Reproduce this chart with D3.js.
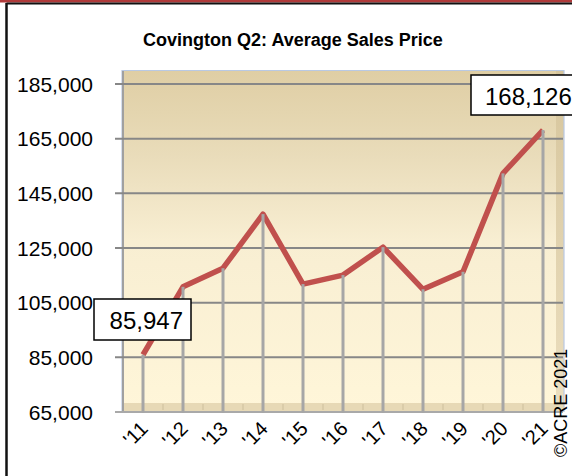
<!DOCTYPE html>
<html><head><meta charset="utf-8">
<script src="https://cdn.jsdelivr.net/npm/d3@7"></script>
<style>body{margin:0;background:#fff}svg{display:block}</style>
</head><body>
<script>
const years = ["'11","'12","'13","'14","'15","'16","'17","'18","'19","'20","'21"];
const prices = [85947,110800,117600,137400,111800,115100,125300,109900,116300,152300,168126];
const yTicks = [65000,85000,105000,125000,145000,165000,185000];
const title = "Covington Q2: Average Sales Price";
const labelled = [0,10];

const W=572,H=476;
const svg=d3.select("body").append("svg").attr("width",W).attr("height",H);
const font="'Liberation Sans', Arial, sans-serif";

// outer frame
svg.append("rect").attr("x",0).attr("y",0).attr("width",W).attr("height",2.5).attr("fill","#b03a3a");
svg.append("line").attr("x1",6.5).attr("x2",W).attr("y1",3.5).attr("y2",3.5).attr("stroke","#111").attr("stroke-width",2);
svg.append("line").attr("x1",6.5).attr("x2",6.5).attr("y1",3).attr("y2",H).attr("stroke","#111").attr("stroke-width",2.5);

const x=d3.scaleBand().domain(years).range([123,563]);
const y=d3.scaleLinear().domain([65000,185000]).range([412,84]);
const cx=d=>x(d)+x.bandwidth()/2;

const defs=svg.append("defs");
const g1=defs.append("linearGradient").attr("id","wall").attr("x1",0).attr("y1",0).attr("x2",0).attr("y2",1);
g1.append("stop").attr("offset","0%").attr("stop-color","#dfcea4");
g1.append("stop").attr("offset","25%").attr("stop-color","#e9dcba");
g1.append("stop").attr("offset","50%").attr("stop-color","#f8eed2");
g1.append("stop").attr("offset","100%").attr("stop-color","#fff6d9");
const g2=defs.append("linearGradient").attr("id","side").attr("x1",0).attr("y1",0).attr("x2",0).attr("y2",1);
g2.append("stop").attr("offset","0%").attr("stop-color","#d6c59c");
g2.append("stop").attr("offset","100%").attr("stop-color","#ecdfc0");

// wall
svg.append("rect").attr("x",122).attr("y",70).attr("width",442).attr("height",342).attr("fill","url(#wall)");
svg.append("rect").attr("x",556).attr("y",70).attr("width",8).attr("height",342).attr("fill","url(#side)");
svg.append("rect").attr("x",122).attr("y",403).attr("width",442).attr("height",9).attr("fill","#e7d9b6");
svg.append("path").attr("d","M122,412V70.5H564V412").attr("fill","none").attr("stroke","#b9c9e3").attr("stroke-width",1.2);
svg.append("line").attr("x1",123).attr("x2",123).attr("y1",71).attr("y2",412).attr("stroke","#a0a0a0").attr("stroke-width",2);

// floor ticks
svg.append("g").selectAll("line").data(d3.range(1,11)).join("line")
  .attr("x1",i=>123+i*x.bandwidth()).attr("x2",i=>123+i*x.bandwidth())
  .attr("y1",404).attr("y2",410).attr("stroke","#cdbf9c").attr("stroke-width",1);

// gridlines
svg.append("g").selectAll("line").data(yTicks).join("line")
  .attr("x1",115).attr("x2",563).attr("y1",d=>y(d)).attr("y2",d=>y(d))
  .attr("stroke",d=>d===65000?"#a9a9a9":"#878787").attr("stroke-width",2);

// y labels
svg.append("g").selectAll("text").data(yTicks).join("text")
  .attr("x",93).attr("y",d=>y(d)+7.5).attr("text-anchor","end")
  .attr("font-family",font).attr("font-size",21).attr("fill","#000")
  .text(d3.format(","));

// line
svg.append("path").datum(prices)
  .attr("d",d3.line().x((d,i)=>cx(years[i])).y(d=>y(d)))
  .attr("fill","none").attr("stroke","#c0504d").attr("stroke-width",5.5).attr("stroke-linejoin","round");

// drop lines
svg.append("g").selectAll("line").data(prices).join("line")
  .attr("x1",(d,i)=>cx(years[i])).attr("x2",(d,i)=>cx(years[i]))
  .attr("y1",d=>y(d)).attr("y2",413).attr("stroke","#a6a6a6").attr("stroke-width",3);

// x labels
svg.append("g").selectAll("text").data(years).join("text")
  .attr("transform",d=>`translate(${cx(d)+6},${430}) rotate(-45)`)
  .attr("text-anchor","end").attr("font-family",font).attr("font-size",20).attr("fill","#000")
  .text(d=>d);

// data labels
const boxes=[{i:0,x:94,y:299,w:97,h:41},{i:10,x:471,y:75,w:110,h:40}];
boxes.forEach(b=>{
  svg.append("rect").attr("x",b.x).attr("y",b.y).attr("width",b.w).attr("height",b.h)
    .attr("fill","#fff").attr("stroke","#000").attr("stroke-width",1.5);
  svg.append("text").attr("x",b.i===0?b.x+b.w-8:b.x+14).attr("y",b.y+30)
    .attr("text-anchor",b.i===0?"end":"start")
    .attr("font-family",font).attr("font-size",24).attr("fill","#000")
    .text(d3.format(",")(prices[b.i]));
});

// title
svg.append("text").attr("x",293).attr("y",46).attr("text-anchor","middle")
  .attr("font-family",font).attr("font-weight","bold").attr("font-size",18).attr("fill","#000")
  .text(title);

// copyright
svg.append("text").attr("transform","translate(567,457) rotate(-90)")
  .attr("font-family",font).attr("font-size",18).attr("fill","#000").text("©ACRE 2021");
</script>
</body></html>
